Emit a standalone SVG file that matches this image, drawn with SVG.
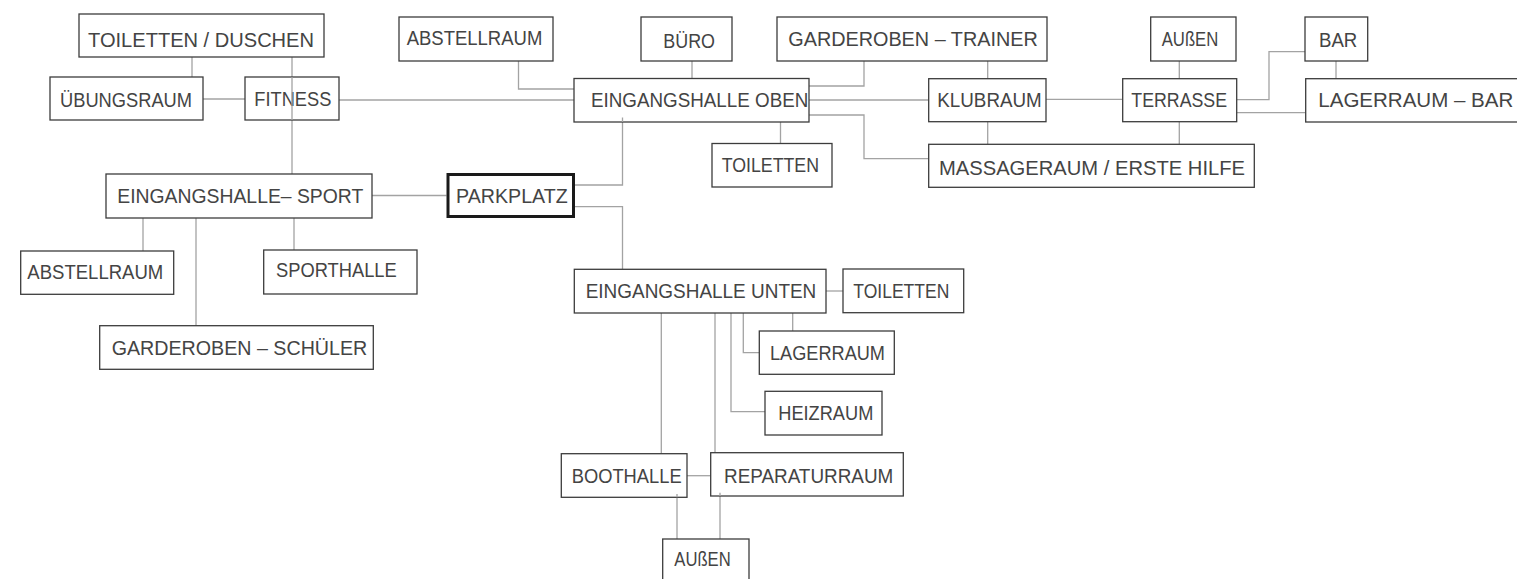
<svg xmlns="http://www.w3.org/2000/svg" width="1517" height="579" viewBox="0 0 1517 579">
<style>
.bg{fill:#ffffff}
.n rect{fill:#ffffff;stroke:#3c3c3c;stroke-width:1.3}
.n.main rect{stroke:#1a1a1a;stroke-width:3}
.n text{font-family:"Liberation Sans",Arial,sans-serif;font-size:19.5px;fill:#444444}
#connectors path{fill:none;stroke:#a3a3a3;stroke-width:1.3}
</style>
<rect class="bg" x="0" y="0" width="1517" height="579"/>
<g id="connectors">
<path d="M192,57 V77"/>
<path d="M203,99 H245"/>
<path d="M292,57 V174"/>
<path d="M339,100 H574"/>
<path d="M372,195.5 H446.5"/>
<path d="M143,218 V251"/>
<path d="M294,218 V250"/>
<path d="M196,218 V325.7"/>
<path d="M518.5,61 V89 H574"/>
<path d="M692,61 V78.5"/>
<path d="M864,61 V86 H809"/>
<path d="M809,100 H928.7"/>
<path d="M809,115 H864 V158.7 H928.7"/>
<path d="M780.5,122 V143.5"/>
<path d="M622.5,117.5 V185 H575"/>
<path d="M575,206.7 H622.5 V269.3"/>
<path d="M987.7,61 V78.7"/>
<path d="M1046,99.3 H1122.7"/>
<path d="M987.7,121.7 V144.3"/>
<path d="M1179.3,61 V78.7"/>
<path d="M1179.3,121.7 V144.3"/>
<path d="M1236.7,99.7 H1269 V51.7 H1305"/>
<path d="M1236.7,112.7 H1305.7"/>
<path d="M1336,61 V78.7"/>
<path d="M826,291 H843"/>
<path d="M792.7,313 V331"/>
<path d="M743.3,313 V352.7 H759.3"/>
<path d="M731,313 V411.7 H765"/>
<path d="M661.3,313 V453.7"/>
<path d="M715,313 V452.7"/>
<path d="M687,475.7 H710.7"/>
<path d="M677,494 V539"/>
<path d="M720,492.7 V539"/>
</g>
<g id="toiletten-duschen" class="n"><rect x="79" y="14" width="245" height="43"/><text x="88" y="46.7" textLength="226" lengthAdjust="spacingAndGlyphs">TOILETTEN / DUSCHEN</text></g>
<g id="uebungsraum" class="n"><rect x="50" y="77" width="153" height="43"/><text x="60" y="106.7" textLength="132" lengthAdjust="spacingAndGlyphs">ÜBUNGSRAUM</text></g>
<g id="fitness" class="n"><rect x="245" y="77" width="94" height="43"/><text x="254.3" y="106" textLength="77" lengthAdjust="spacingAndGlyphs">FITNESS</text></g>
<path d="M292,77 V120" fill="none" stroke="#a3a3a3" stroke-width="1.3"/>
<g id="eingangshalle-sport" class="n"><rect x="106" y="174" width="266" height="44"/><text x="117.3" y="203.3" textLength="246" lengthAdjust="spacingAndGlyphs">EINGANGSHALLE– SPORT</text></g>
<g id="abstellraum-oben" class="n"><rect x="399" y="17" width="154" height="44"/><text x="406.7" y="45" textLength="135.6" lengthAdjust="spacingAndGlyphs">ABSTELLRAUM</text></g>
<g id="buero" class="n"><rect x="641" y="17" width="91" height="44"/><text x="663.3" y="48.3" textLength="51.7" lengthAdjust="spacingAndGlyphs">BÜRO</text></g>
<g id="garderoben-trainer" class="n"><rect x="777" y="17" width="270" height="44"/><text x="788.3" y="46" textLength="249.4" lengthAdjust="spacingAndGlyphs">GARDEROBEN – TRAINER</text></g>
<g id="eingangshalle-oben" class="n"><rect x="574" y="78.5" width="235" height="43.5"/><text x="591" y="107.3" textLength="217.3" lengthAdjust="spacingAndGlyphs">EINGANGSHALLE OBEN</text></g>
<g id="toiletten-oben" class="n"><rect x="712" y="143.5" width="120" height="43.5"/><text x="721.7" y="172.3" textLength="97.3" lengthAdjust="spacingAndGlyphs">TOILETTEN</text></g>
<g id="parkplatz" class="n main"><rect x="448" y="174.5" width="125.5" height="42"/><text x="456" y="202.7" textLength="111.7" lengthAdjust="spacingAndGlyphs">PARKPLATZ</text></g>
<g id="klubraum" class="n"><rect x="928.7" y="78.7" width="117.3" height="43"/><text x="937.3" y="106.7" textLength="104.4" lengthAdjust="spacingAndGlyphs">KLUBRAUM</text></g>
<g id="terrasse" class="n"><rect x="1122.7" y="78.7" width="114" height="43"/><text x="1131.3" y="106.7" textLength="95.7" lengthAdjust="spacingAndGlyphs">TERRASSE</text></g>
<g id="aussen-oben" class="n"><rect x="1150.7" y="17" width="85.3" height="44"/><text x="1161.7" y="45.7" textLength="56.6" lengthAdjust="spacingAndGlyphs">AUßEN</text></g>
<g id="bar" class="n"><rect x="1305" y="17" width="62.7" height="44"/><text x="1319" y="46.7" textLength="38.3" lengthAdjust="spacingAndGlyphs">BAR</text></g>
<g id="lagerraum-bar" class="n"><rect x="1305.7" y="78.7" width="230" height="43.3"/><text x="1318.3" y="106.7" textLength="195" lengthAdjust="spacingAndGlyphs">LAGERRAUM – BAR</text></g>
<g id="massageraum" class="n"><rect x="928.7" y="144.3" width="325.6" height="43"/><text x="939" y="175" textLength="306" lengthAdjust="spacingAndGlyphs">MASSAGERAUM / ERSTE HILFE</text></g>
<g id="abstellraum-sport" class="n"><rect x="20.7" y="251" width="153" height="43.3"/><text x="27.3" y="279" textLength="136" lengthAdjust="spacingAndGlyphs">ABSTELLRAUM</text></g>
<g id="sporthalle" class="n"><rect x="263.7" y="250" width="153.3" height="44"/><text x="276" y="276.7" textLength="120.7" lengthAdjust="spacingAndGlyphs">SPORTHALLE</text></g>
<g id="garderoben-schueler" class="n"><rect x="99.7" y="325.7" width="273.6" height="43.6"/><text x="111.7" y="355" textLength="255.6" lengthAdjust="spacingAndGlyphs">GARDEROBEN – SCHÜLER</text></g>
<g id="eingangshalle-unten" class="n"><rect x="574.3" y="269.3" width="251.7" height="43.7"/><text x="585.7" y="297.7" textLength="230.6" lengthAdjust="spacingAndGlyphs">EINGANGSHALLE UNTEN</text></g>
<g id="toiletten-unten" class="n"><rect x="843" y="269" width="120.7" height="43.7"/><text x="853.3" y="297.7" textLength="96" lengthAdjust="spacingAndGlyphs">TOILETTEN</text></g>
<g id="lagerraum" class="n"><rect x="759.3" y="331" width="135" height="43.3"/><text x="770" y="360" textLength="115" lengthAdjust="spacingAndGlyphs">LAGERRAUM</text></g>
<g id="heizraum" class="n"><rect x="765" y="391.3" width="117" height="43.7"/><text x="778.3" y="420" textLength="95" lengthAdjust="spacingAndGlyphs">HEIZRAUM</text></g>
<g id="boothalle" class="n"><rect x="561.3" y="453.7" width="125.7" height="43.6"/><text x="571.7" y="482.7" textLength="110" lengthAdjust="spacingAndGlyphs">BOOTHALLE</text></g>
<g id="reparaturraum" class="n"><rect x="710.7" y="452.7" width="192.6" height="43.3"/><text x="724" y="482.7" textLength="169.3" lengthAdjust="spacingAndGlyphs">REPARATURRAUM</text></g>
<g id="aussen-unten" class="n"><rect x="662.7" y="539" width="86.3" height="50"/><text x="674.3" y="566" textLength="56.4" lengthAdjust="spacingAndGlyphs">AUßEN</text></g>
<path d="M622.5,117.5 V122 M677,494 V497.3 M720,492.7 V496" fill="none" stroke="#a3a3a3" stroke-width="1.3"/>
</svg>
